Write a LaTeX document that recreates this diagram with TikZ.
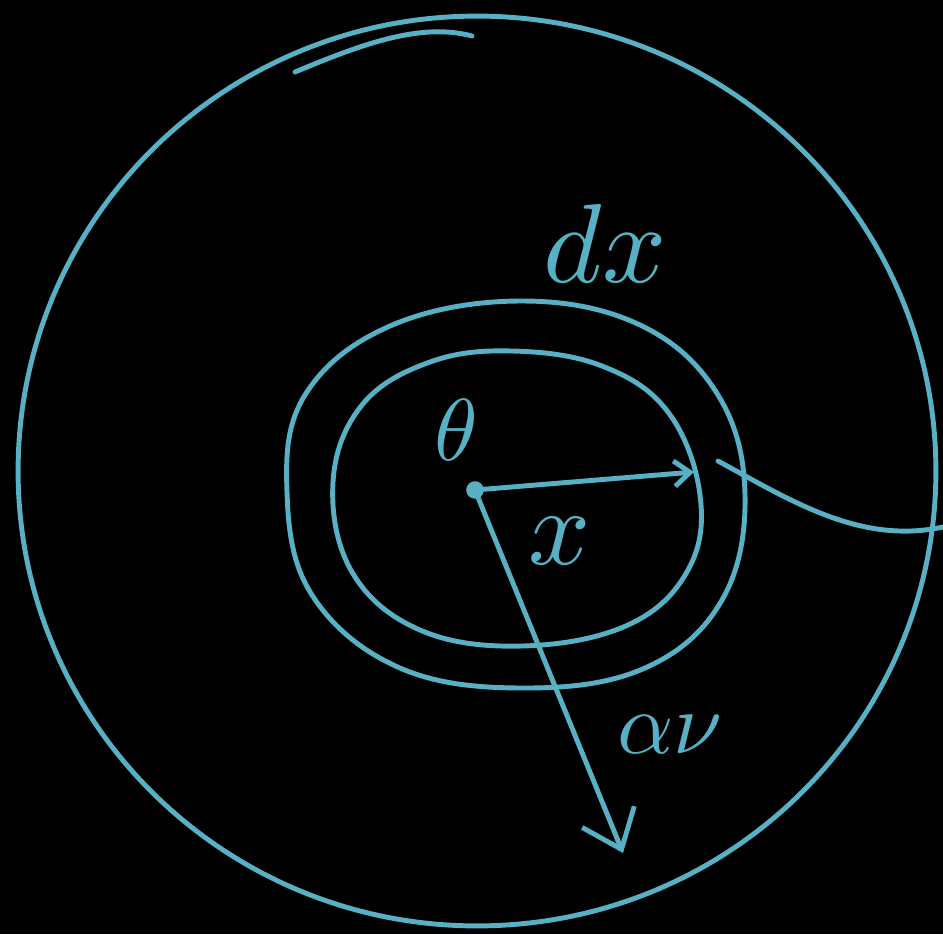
\documentclass[tikz,border=0pt]{standalone}
\usepackage{tikz}
\usetikzlibrary{arrows.meta,positioning}
\definecolor{chalkcyan}{RGB}{88,176,196}

\begin{document}
\begin{tikzpicture}[x=0.02cm,y=-0.02cm,
  chalk/.style={draw=chalkcyan,line width=2.8pt,line cap=round,line join=round},
  lbl/.style={text=chalkcyan,inner sep=0pt},
  arr/.style={chalk,-{Straight Barb[length=#1,width=1.6*#1,line width=2.8pt]}}]
  \fill[black](0,0)rectangle(943,934);
  \useasboundingbox(0,0)rectangle(943,934);
  % outer disc and the two rings
  \draw[chalk](477,471)ellipse[x radius=9.18cm,y radius=9.1cm];
  \draw[chalk](295,72)..controls(360,45)and(420,22)..(472,36);
  \draw[chalk]plot[smooth cycle,tension=0.65]coordinates{(287,492)(305,395)(390,326)(520,301)(640,325)(718,395)(745,495)(722,600)(645,668)(525,688)(400,668)(312,595)};
  \draw[chalk]plot[smooth cycle,tension=0.65]coordinates{(333,482)(362,405)(430,362)(512,351)(602,366)(668,412)(700,495)(688,570)(628,625)(522,646)(420,630)(352,572)};
  \draw[chalk](718,461)..controls(790,500)and(860,545)..(943,527);
  % centre and radii
  \node[circle,fill=chalkcyan,inner sep=0pt,minimum size=10pt](o)at(475,490){};
  \coordinate(xr)at(694,472);
  \coordinate(ar)at(623,853);
  \draw[arr=9pt](o.center)--(xr);
  \draw[arr=20pt](o.center)--(ar);
  % labels
  \node[lbl,scale=6.4](dx)at(605,243){$dx$};
  \node[lbl,scale=5](th)at(456,430){$\theta$};
  \node[lbl,scale=6.2](xl)at(560,541){$x$};
  \node[lbl,scale=5](al)at(670,735){$\alpha\nu$};
\end{tikzpicture}
\end{document}
